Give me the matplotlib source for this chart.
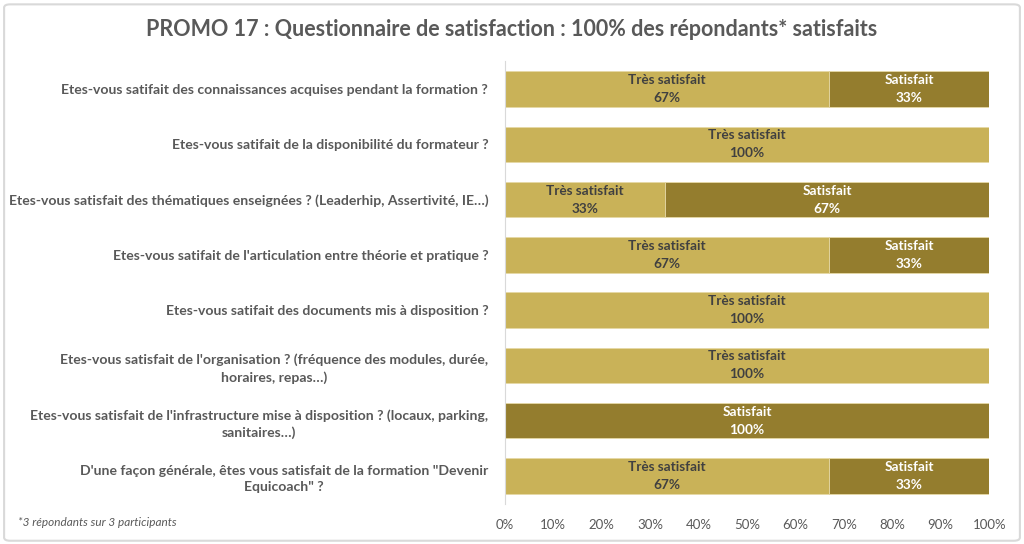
import matplotlib.pyplot as plt
from matplotlib.patches import FancyBboxPatch
import numpy as np

questions = [
    "Etes-vous satifait des connaissances acquises pendant la formation ?",
    "Etes-vous satifait de la disponibilité du formateur ?",
    "Etes-vous satisfait des thématiques enseignées ? (Leaderhip, Assertivité, IE…)",
    "Etes-vous satifait de l'articulation entre théorie et pratique ?",
    "Etes-vous satifait des documents mis à disposition ?",
    "Etes-vous satisfait de l'organisation ? (fréquence des modules, durée,\nhoraires, repas…)",
    "Etes-vous satisfait de l'infrastructure mise à disposition ? (locaux, parking,\nsanitaires…)",
    "D'une façon générale, êtes vous satisfait de la formation \"Devenir\nEquicoach\" ?",
]
tres_satisfait = [67, 100, 33, 67, 100, 100, 0, 67]
satisfait = [33, 0, 67, 33, 0, 0, 100, 33]
series_names = ["Très satisfait", "Satisfait"]

LIGHT = "#C9B258"
DARK = "#947D2E"
TXT = "#595959"

plt.rcParams["font.family"] = ["Lato", "DejaVu Sans"]

fig = plt.figure(figsize=(10.24, 5.44), dpi=100)
fig.patches.append(FancyBboxPatch((0.004, 0.006), 0.992, 0.986,
                                  boxstyle="round,pad=0,rounding_size=0.006",
                                  transform=fig.transFigure, fc="white",
                                  ec="#D9D9D9", lw=1.5, zorder=-1))
ax = fig.add_axes([0.493, 0.0744, 0.473, 0.8126])

y = np.arange(len(questions))
ts = np.array(tres_satisfait)
s = np.array(satisfait)
ax.barh(y, ts, height=0.64, color=LIGHT, edgecolor="#E6D9A6", lw=0.6)
ax.barh(y, s, left=ts, height=0.64, color=DARK, edgecolor="#E6D9A6", lw=0.6)

for i in range(len(y)):
    if ts[i] > 0:
        ax.text(ts[i] / 2, y[i], f"{series_names[0]}\n{ts[i]}%", ha="center", va="center",
                fontsize=9.8, fontweight="bold", color="#404040", linespacing=1.6)
    if s[i] > 0:
        ax.text(ts[i] + s[i] / 2, y[i], f"{series_names[1]}\n{s[i]}%", ha="center", va="center",
                fontsize=9.8, fontweight="bold", color="white", linespacing=1.6)

ax.set_xlim(0, 100)
ax.set_ylim(len(y) - 0.5, -0.5)
ax.set_yticks(y)
ax.set_yticklabels(questions, fontsize=10.1, fontweight="bold", color=TXT,
                   multialignment="center", linespacing=1.45)
ax.set_xticks(np.arange(0, 101, 10))
ax.set_xticklabels([f"{v}%" for v in range(0, 101, 10)], fontsize=9.5, color=TXT)
ax.tick_params(axis="both", length=0)
ax.tick_params(axis="y", pad=12)
ax.tick_params(axis="x", pad=11)
for sp in ["top", "right", "bottom"]:
    ax.spines[sp].set_visible(False)
ax.spines["left"].set_color("#D9D9D9")

fig.text(0.5, 0.945, "PROMO 17 : Questionnaire de satisfaction : 100% des répondants* satisfaits",
         ha="center", va="center", fontsize=15.5, fontweight="bold", color=TXT)
fig.text(0.018, 0.04, "*3 répondants sur 3 participants", ha="left", va="center",
         fontsize=8.5, style="italic", color=TXT)

fig.savefig("out.png", dpi=100)
